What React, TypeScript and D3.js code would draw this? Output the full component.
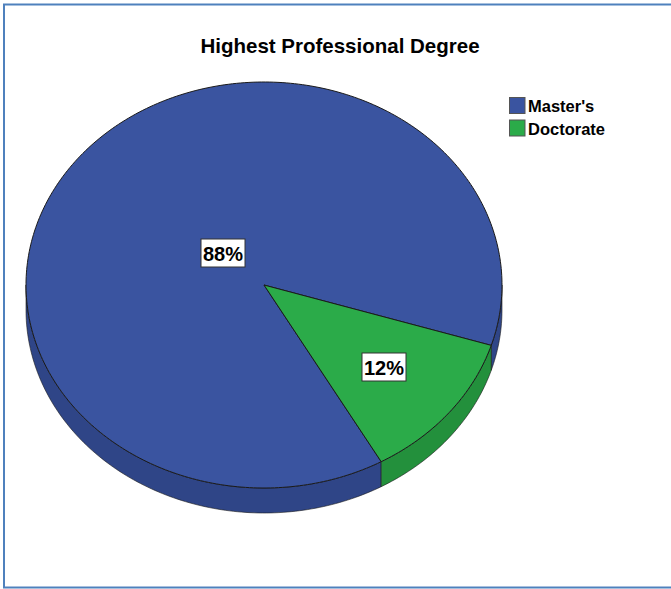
import React from "react";
import * as d3 from "d3";

const categories = ["Master's", "Doctorate"];
const values = [88, 12];
const labels = ["88%", "12%"];
const topColors = ["#3a54a0", "#2bab49"];
const sideColors = ["#2f4587", "#23903c"];
const title = "Highest Professional Degree";

const W = 671;
const H = 589;
const cx = 264;
const cy = 285;
const rx = 238;
const ry = 203;
const depth = 25;

function pt(a: number, dy = 0): [number, number] {
  return [cx + rx * Math.sin(a), cy - ry * Math.cos(a) + dy];
}

function topPath(a0: number, a1: number): string {
  const n = Math.max(8, Math.ceil(((a1 - a0) * 180) / Math.PI));
  const pts: [number, number][] = [[cx, cy]];
  d3.range(n + 1).forEach((i) => pts.push(pt(a0 + ((a1 - a0) * i) / n)));
  return (d3.line()(pts) as string) + "Z";
}

function sidePath(a0: number, a1: number): string | null {
  const norm = (a: number) => ((a % (2 * Math.PI)) + 2 * Math.PI) % (2 * Math.PI);
  const base = a0 - norm(a0);
  const lo = base + Math.PI / 2;
  const hi = base + (3 * Math.PI) / 2;
  const ranges: [number, number][] = [];
  [[lo, hi], [lo + 2 * Math.PI, hi + 2 * Math.PI], [lo - 2 * Math.PI, hi - 2 * Math.PI]].forEach(([l, h]) => {
    const ss = Math.max(a0, l);
    const ee = Math.min(a1, h);
    if (ee > ss) ranges.push([ss, ee]);
  });
  if (!ranges.length) return null;
  return ranges
    .map(([p, q]) => {
      const n = Math.max(8, Math.ceil(((q - p) * 180) / Math.PI));
      const up = d3.range(n + 1).map((i) => pt(p + ((q - p) * i) / n));
      const down = d3.range(n + 1).map((i) => pt(q - ((q - p) * i) / n, depth));
      return (d3.line()([...up, ...down]) as string) + "Z";
    })
    .join(" ");
}

export default function App() {
  const pie = d3
    .pie<number>()
    .sort(null)
    .startAngle((150.5 * Math.PI) / 180)
    .endAngle((150.5 * Math.PI) / 180 + 2 * Math.PI);
  const arcs = pie(values);

  const labelPos: [number, number][] = [
    [223, 253],
    [384, 367],
  ];

  return (
    <svg
      width={W}
      height={H}
      style={{ position: "absolute", left: 0, top: 0, background: "#fff" }}
      fontFamily="Liberation Sans, Arial, sans-serif"
    >
      <rect x={4} y={4.5} width={700} height={583} fill="#fff" stroke="#4f81bd" strokeWidth={2} />
      <text x={340} y={53} textAnchor="middle" fontSize={20.5} fontWeight="bold" fill="#000">
        {title}
      </text>

      {arcs.map((a, i) => {
        const d = sidePath(a.startAngle, a.endAngle);
        return d ? (
          <path key={"s" + i} d={d} fill={sideColors[i]} stroke="#1a1a1a" strokeWidth={0.6} strokeLinejoin="round" />
        ) : null;
      })}
      {arcs.map((a, i) => (
        <path key={"t" + i} d={topPath(a.startAngle, a.endAngle)} fill={topColors[i]} stroke="#1a1a1a" strokeWidth={1} strokeLinejoin="round" />
      ))}

      {labels.map((l, i) => (
        <g key={"l" + i} transform={`translate(${labelPos[i][0]},${labelPos[i][1]})`}>
          <rect x={-22} y={-14} width={44} height={28} fill="#fff" stroke="#333" strokeWidth={1} />
          <text x={0} y={7.5} textAnchor="middle" fontSize={20} fontWeight="bold" fill="#000">
            {l}
          </text>
        </g>
      ))}

      {categories.map((c, i) => (
        <g key={"g" + i} transform={`translate(509,${97 + i * 22.5})`}>
          <rect x={0.5} y={0.5} width={15.5} height={16} fill={topColors[i]} stroke="#555" strokeWidth={1} />
          <text x={19} y={15} fontSize={16.5} fontWeight="bold" fill="#000">
            {c}
          </text>
        </g>
      ))}
    </svg>
  );
}
